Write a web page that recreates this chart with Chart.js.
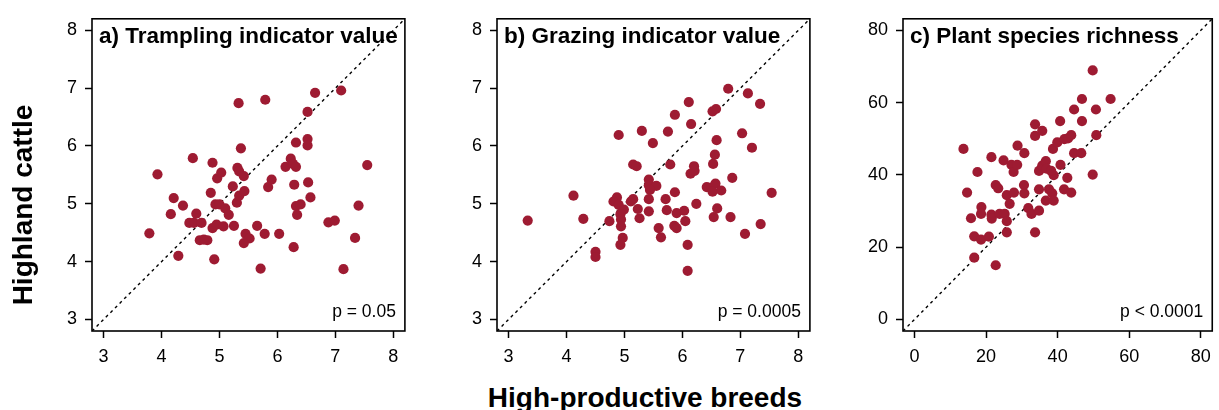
<!DOCTYPE html>
<html>
<head>
<meta charset="utf-8">
<script src="https://cdn.jsdelivr.net/npm/chart.js@4.4.0/dist/chart.umd.min.js"></script>
<style>
  body { margin: 0; background: #fff; width: 1219px; height: 410px; position: relative; overflow: hidden;
         font-family: "Liberation Sans", Arial, sans-serif; }
  .pan { position: absolute; top: 0; height: 370px; }
  .axt { position: absolute; font-weight: bold; font-size: 28px; line-height: 28px; text-align: center; white-space: nowrap; color: #000; }
  #ylab { left: -127px; top: 191px; width: 300px; transform: rotate(-90deg); }
  #xlab { left: 445px; top: 384px; width: 400px; }
</style>
</head>
<body>
<canvas id="pa" class="pan" style="left:0px" width="410" height="370"></canvas>
<canvas id="pb" class="pan" style="left:405px" width="410" height="370"></canvas>
<canvas id="pc" class="pan" style="left:811px" width="408" height="370"></canvas>
<div id="ylab" class="axt">Highland cattle</div>
<div id="xlab" class="axt">High-productive breeds</div>
<script>
// panel texts
const titles = ['a) Trampling indicator value', 'b) Grazing indicator value', 'c) Plant species richness'];
const pvals = ['p = 0.05', 'p = 0.0005', 'p < 0.0001'];

// tick labels
const ticksIndicator = [3, 4, 5, 6, 7, 8];
const ticksRichness = [0, 20, 40, 60, 80];

// a) trampling: high-productive breeds (x) vs highland cattle (y)
const trampHP = [3.79, 3.93, 4.21, 4.16, 4.29, 4.37, 4.54, 4.60, 4.48, 4.56, 4.69, 4.66, 4.79, 4.73,
  4.88, 4.85, 4.96, 5.03, 4.91, 4.88, 4.95, 5.07, 4.93, 5.00, 5.10, 5.16, 5.23, 5.25, 5.30, 5.34,
  5.43, 5.31, 5.34, 5.42, 5.37, 5.33, 5.79, 5.45, 5.52, 5.42, 5.65, 5.78, 5.71, 5.84, 5.90, 6.03,
  6.14, 6.23, 6.27, 6.32, 6.32, 6.29, 6.32, 6.34, 6.40, 6.28, 6.52, 6.52, 6.52, 6.65, 6.53, 6.57,
  6.88, 6.99, 7.10, 7.14, 7.34, 7.40, 7.55];
const trampHC = [4.49, 5.51, 5.10, 4.82, 4.10, 4.97, 5.79, 4.83, 4.67, 4.67, 4.67, 4.37, 4.37, 4.38,
  5.71, 5.19, 5.44, 5.54, 4.04, 4.58, 4.64, 4.61, 4.99, 4.99, 4.92, 4.81, 5.30, 4.62, 5.02, 5.14,
  5.22, 5.62, 5.56, 5.48, 5.96, 6.74, 6.80, 4.48, 4.40, 4.32, 4.62, 4.48, 3.88, 5.29, 5.42, 4.48,
  5.64, 5.78, 5.69, 5.64, 6.06, 5.33, 4.96, 4.81, 4.99, 4.25, 6.12, 6.01, 6.59, 6.92, 5.37, 5.11,
  4.68, 4.71, 6.96, 3.87, 4.41, 4.97, 5.67];

// b) grazing
const grazHP = [3.33, 4.12, 4.29, 4.50, 4.50, 4.74, 4.90, 4.87, 4.81, 4.90, 4.99, 4.93, 4.94, 4.94,
  4.97, 4.93, 5.11, 5.15, 5.15, 5.21, 5.30, 5.23, 5.26, 5.42, 5.42, 5.55, 5.44, 5.42, 5.42, 5.49,
  5.75, 5.87, 5.79, 5.71, 5.73, 5.59, 5.63, 5.87, 5.86, 5.90, 5.90, 6.03, 6.05, 6.09, 6.09, 6.11,
  6.15, 6.14, 6.20, 6.21, 6.24, 6.42, 6.50, 6.57, 6.52, 6.67, 6.60, 6.54, 6.53, 6.56, 6.59, 6.52,
  6.58, 6.79, 6.86, 6.83, 7.03, 7.13, 7.20, 7.08, 7.34, 7.35, 7.54];
const grazHC = [4.71, 5.14, 4.74, 4.17, 4.08, 4.70, 6.19, 5.11, 5.04, 4.98, 4.90, 4.82, 4.73, 4.61,
  4.41, 4.29, 5.04, 5.08, 5.68, 5.65, 6.26, 4.91, 4.75, 5.42, 5.32, 5.31, 5.24, 5.08, 4.87, 6.05,
  6.25, 6.54, 5.68, 5.08, 4.89, 4.58, 4.42, 5.20, 4.62, 4.58, 4.84, 4.88, 4.70, 4.29, 3.84, 6.76,
  6.38, 5.52, 5.65, 5.57, 5.00, 5.29, 5.28, 5.35, 5.21, 5.23, 4.92, 4.77, 5.69, 5.85, 6.10, 6.60,
  6.64, 6.99, 5.45, 4.77, 6.22, 6.91, 5.97, 4.48, 6.73, 4.65, 5.19];

// c) species richness
const richHP = [13.7, 14.7, 17.6, 15.8, 16.7, 16.7, 18.7, 18.6, 18.6, 20.8, 21.5, 21.5, 21.6, 22.7,
  23.4, 22.7, 23.8, 24.9, 25.2, 25.8, 25.8, 25.8, 26.6, 27.1, 27.7, 28.7, 28.8, 27.8, 30.7, 30.6,
  30.7, 31.8, 32.7, 33.7, 33.7, 33.7, 35.7, 34.8, 34.8, 34.8, 35.7, 36.7, 36.9, 37.6, 38.5, 36.7,
  38.9, 38.9, 38.2, 38.7, 39.9, 40.7, 40.8, 41.9, 42.9, 43.8, 42.7, 41.8, 43.8, 44.6, 46.6, 44.6,
  46.8, 46.8, 49.8, 49.8, 50.7, 50.8, 54.8];
const richHC = [47.2, 35.1, 40.8, 28.0, 17.1, 23.0, 31.1, 29.2, 22.1, 22.9, 44.9, 29.0, 27.9, 37.2,
  36.3, 15.0, 29.2, 44.0, 29.2, 27.2, 24.1, 34.4, 32.0, 42.8, 40.8, 42.8, 48.1, 35.1, 46.0, 37.2,
  34.9, 30.8, 29.2, 24.1, 54.0, 50.8, 52.2, 30.1, 36.0, 41.1, 42.6, 43.8, 41.7, 36.0, 34.9, 32.9,
  32.9, 39.9, 41.1, 47.2, 49.0, 54.9, 42.8, 49.9, 50.1, 51.0, 39.2, 36.0, 35.1, 46.0, 46.0, 58.1,
  54.9, 61.0, 68.9, 40.1, 58.1, 51.0, 61.0];

const FONT = '"Liberation Sans", Arial, sans-serif';
const DOT = '#9e1b32';

function makePanel(id, xs, ys, tickVals, title, pval) {
  // axis range as R draws it: 4% beyond the first/last tick
  const span = tickVals[tickVals.length - 1] - tickVals[0];
  const lo = tickVals[0] - span * 0.04, hi = tickVals[tickVals.length - 1] + span * 0.04;
  const pts = xs.map((x, i) => ({ x: x, y: ys[i] }));

  const framePlugin = {
    id: 'frame',
    afterDraw(chart) {
      const a = chart.chartArea, ctx = chart.ctx;
      ctx.save();
      ctx.strokeStyle = '#000';
      ctx.lineWidth = 1.6;
      ctx.strokeRect(a.left, a.top, a.right - a.left, a.bottom - a.top);
      ctx.fillStyle = '#000';
      ctx.font = 'bold 22.5px ' + FONT;
      ctx.textAlign = 'left';
      ctx.textBaseline = 'alphabetic';
      ctx.fillText(title, a.left + 7, a.top + 24);
      ctx.font = '17.5px ' + FONT;
      ctx.textAlign = 'right';
      ctx.fillText(pval, a.right - 9, a.bottom - 14);
      ctx.restore();
    }
  };

  function axis(isX) {
    return {
      type: 'linear',
      min: lo, max: hi,
      afterBuildTicks: s => { s.ticks = tickVals.map(v => ({ value: v })); },
      afterFit: s => { if (isX) s.height = 39; else s.width = 92; },
      grid: { drawOnChartArea: false, drawTicks: true, tickLength: 7, tickColor: '#000', tickWidth: 1.5 },
      border: { display: false },
      ticks: { color: '#000', font: { size: 18, family: FONT }, padding: 8, maxRotation: 0, autoSkip: false }
    };
  }

  new Chart(document.getElementById(id), {
    type: 'scatter',
    data: {
      datasets: [
        { type: 'line', data: [{ x: lo, y: lo }, { x: hi, y: hi }], borderColor: '#000', borderWidth: 1.4,
          borderDash: [3, 3.5], pointRadius: 0, fill: false, order: 2 },
        { data: pts, backgroundColor: DOT, borderWidth: 0, pointRadius: 5.1, order: 1 }
      ]
    },
    options: {
      responsive: false,
      animation: false,
      layout: { padding: { top: 15, right: id === 'pc' ? 4 : 2, left: 0, bottom: 0 } },
      plugins: { legend: { display: false }, tooltip: { enabled: false } },
      scales: { x: axis(true), y: axis(false) }
    },
    plugins: [framePlugin]
  });
}

makePanel('pa', trampHP, trampHC, ticksIndicator, titles[0], pvals[0]);
makePanel('pb', grazHP, grazHC, ticksIndicator, titles[1], pvals[1]);
makePanel('pc', richHP, richHC, ticksRichness, titles[2], pvals[2]);
</script>
</body>
</html>
